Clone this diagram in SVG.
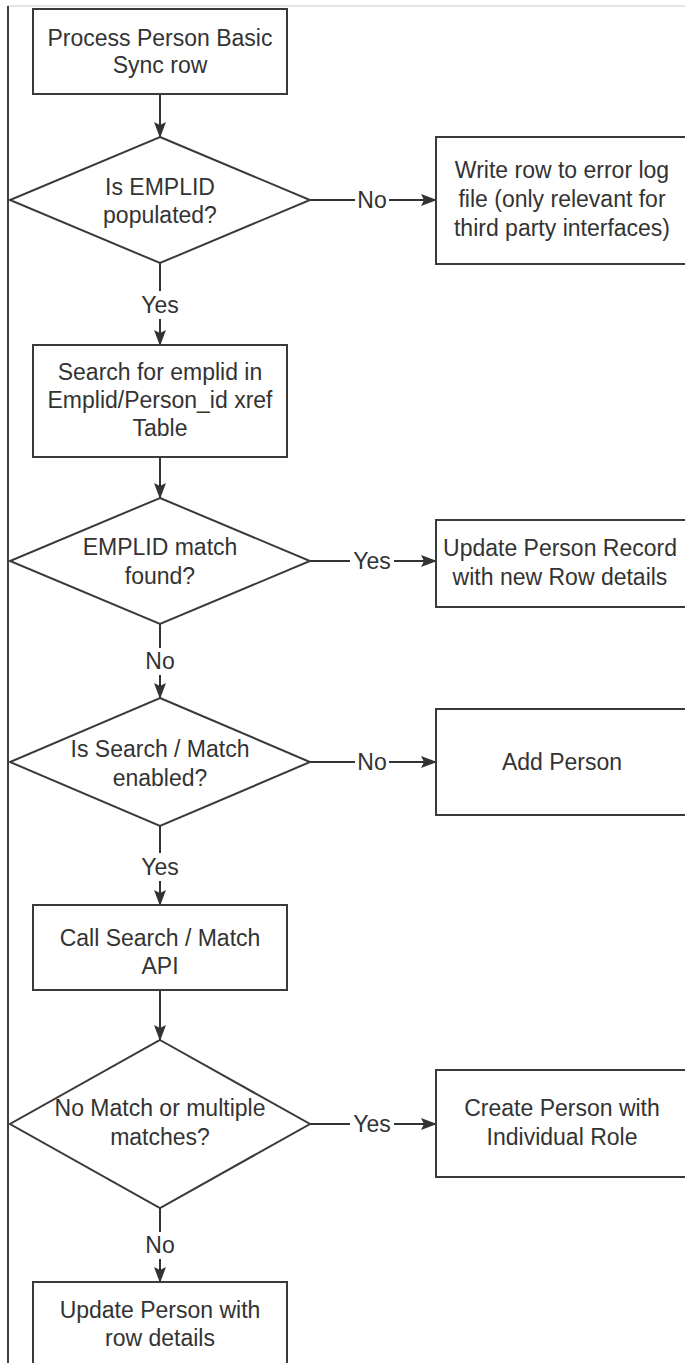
<svg xmlns="http://www.w3.org/2000/svg" width="685" height="1363" viewBox="0 0 685 1363">
<defs>
<marker id="ah" markerWidth="8" markerHeight="8" refX="7" refY="4" orient="auto" markerUnits="userSpaceOnUse" viewBox="0 0 8 8">
<path d="M0,0 L8,4 L0,8 z" fill="#333"/>
</marker>
<style>
.n{fill:#fff;stroke:#3a3a3a;stroke-width:2}
.t{font-family:"Liberation Sans",Arial,sans-serif;font-size:23px;fill:#333;text-anchor:middle}
.c{stroke:#333;stroke-width:2;fill:none}
.a{stroke:#333;stroke-width:2;fill:none;marker-end:url(#ah)}
</style>
<marker id="ah2" markerWidth="16" markerHeight="12" refX="15" refY="6" orient="auto" markerUnits="userSpaceOnUse" viewBox="0 0 16 12">
<path d="M0,0 L16,6 L0,12 L3,6 z" fill="#333"/>
</marker>
</defs>
<rect width="685" height="1363" fill="#fff"/>
<line x1="8" y1="6" x2="685" y2="6" stroke="#ddd" stroke-width="1.5"/>
<line x1="8" y1="6" x2="8" y2="1363" stroke="#000" stroke-width="1.5"/>

<g id="connectors">
<line class="c" x1="160" y1="94" x2="160" y2="137" marker-end="url(#ah2)"/>
<line class="c" x1="310" y1="200" x2="355" y2="200"/>
<line class="c" x1="389" y1="200" x2="436" y2="200" marker-end="url(#ah2)"/>
<text class="t" x="372" y="208">No</text>
<line class="c" x1="160" y1="263" x2="160" y2="291"/>
<text class="t" x="160" y="313">Yes</text>
<line class="c" x1="160" y1="319" x2="160" y2="345" marker-end="url(#ah2)"/>
<line class="c" x1="160" y1="457" x2="160" y2="498" marker-end="url(#ah2)"/>
<line class="c" x1="310" y1="561" x2="350" y2="561"/>
<line class="c" x1="394" y1="561" x2="436" y2="561" marker-end="url(#ah2)"/>
<text class="t" x="372" y="569">Yes</text>
<line class="c" x1="160" y1="624" x2="160" y2="648"/>
<text class="t" x="160" y="669">No</text>
<line class="c" x1="160" y1="675" x2="160" y2="698" marker-end="url(#ah2)"/>
<line class="c" x1="310" y1="762" x2="355" y2="762"/>
<line class="c" x1="389" y1="762" x2="436" y2="762" marker-end="url(#ah2)"/>
<text class="t" x="372" y="770">No</text>
<line class="c" x1="160" y1="826" x2="160" y2="853"/>
<text class="t" x="160" y="875">Yes</text>
<line class="c" x1="160" y1="881" x2="160" y2="905" marker-end="url(#ah2)"/>
<line class="c" x1="160" y1="990" x2="160" y2="1040" marker-end="url(#ah2)"/>
<line class="c" x1="310" y1="1124" x2="350" y2="1124"/>
<line class="c" x1="394" y1="1124" x2="436" y2="1124" marker-end="url(#ah2)"/>
<text class="t" x="372" y="1132">Yes</text>
<line class="c" x1="160" y1="1208" x2="160" y2="1232"/>
<text class="t" x="160" y="1253">No</text>
<line class="c" x1="160" y1="1259" x2="160" y2="1282" marker-end="url(#ah2)"/>
</g>

<g id="start">
<rect class="n" x="33" y="9" width="254" height="85"/>
<text class="t" x="160" y="46">Process Person Basic</text>
<text class="t" x="160" y="73">Sync row</text>
</g>

<g id="d1">
<polygon class="n" points="160,137 310,200 160,263 10,200"/>
<text class="t" x="160" y="195">Is EMPLID</text>
<text class="t" x="160" y="223">populated?</text>
</g>

<g id="errlog">
<rect class="n" x="436" y="137" width="260" height="127"/>
<text class="t" x="562" y="178">Write row to error log</text>
<text class="t" x="562" y="207">file (only relevant for</text>
<text class="t" x="562" y="236">third party interfaces)</text>
</g>

<g id="search">
<rect class="n" x="33" y="345" width="254" height="112"/>
<text class="t" x="160" y="380">Search for emplid in</text>
<text class="t" x="160" y="408">Emplid/Person_id xref</text>
<text class="t" x="160" y="436">Table</text>
</g>

<g id="d2">
<polygon class="n" points="160,498 310,561 160,624 10,561"/>
<text class="t" x="160" y="555">EMPLID match</text>
<text class="t" x="160" y="584">found?</text>
</g>

<g id="updrec">
<rect class="n" x="436" y="520" width="260" height="87"/>
<text class="t" x="560" y="556">Update Person Record</text>
<text class="t" x="560" y="585">with new Row details</text>
</g>

<g id="d3">
<polygon class="n" points="160,698 310,762 160,826 10,762"/>
<text class="t" x="160" y="757">Is Search / Match</text>
<text class="t" x="160" y="786">enabled?</text>
</g>

<g id="add">
<rect class="n" x="436" y="709" width="260" height="106"/>
<text class="t" x="562" y="770">Add Person</text>
</g>

<g id="callapi">
<rect class="n" x="33" y="905" width="254" height="85"/>
<text class="t" x="160" y="946">Call Search / Match</text>
<text class="t" x="160" y="974">API</text>
</g>

<g id="d4">
<polygon class="n" points="160,1040 310,1124 160,1208 10,1124"/>
<text class="t" x="160" y="1116">No Match or multiple</text>
<text class="t" x="160" y="1145">matches?</text>
</g>

<g id="create">
<rect class="n" x="436" y="1070" width="260" height="107"/>
<text class="t" x="562" y="1116">Create Person with</text>
<text class="t" x="562" y="1145">Individual Role</text>
</g>

<g id="updrow">
<rect class="n" x="33" y="1282" width="254" height="100"/>
<text class="t" x="160" y="1318">Update Person with</text>
<text class="t" x="160" y="1346">row details</text>
</g>
</svg>
